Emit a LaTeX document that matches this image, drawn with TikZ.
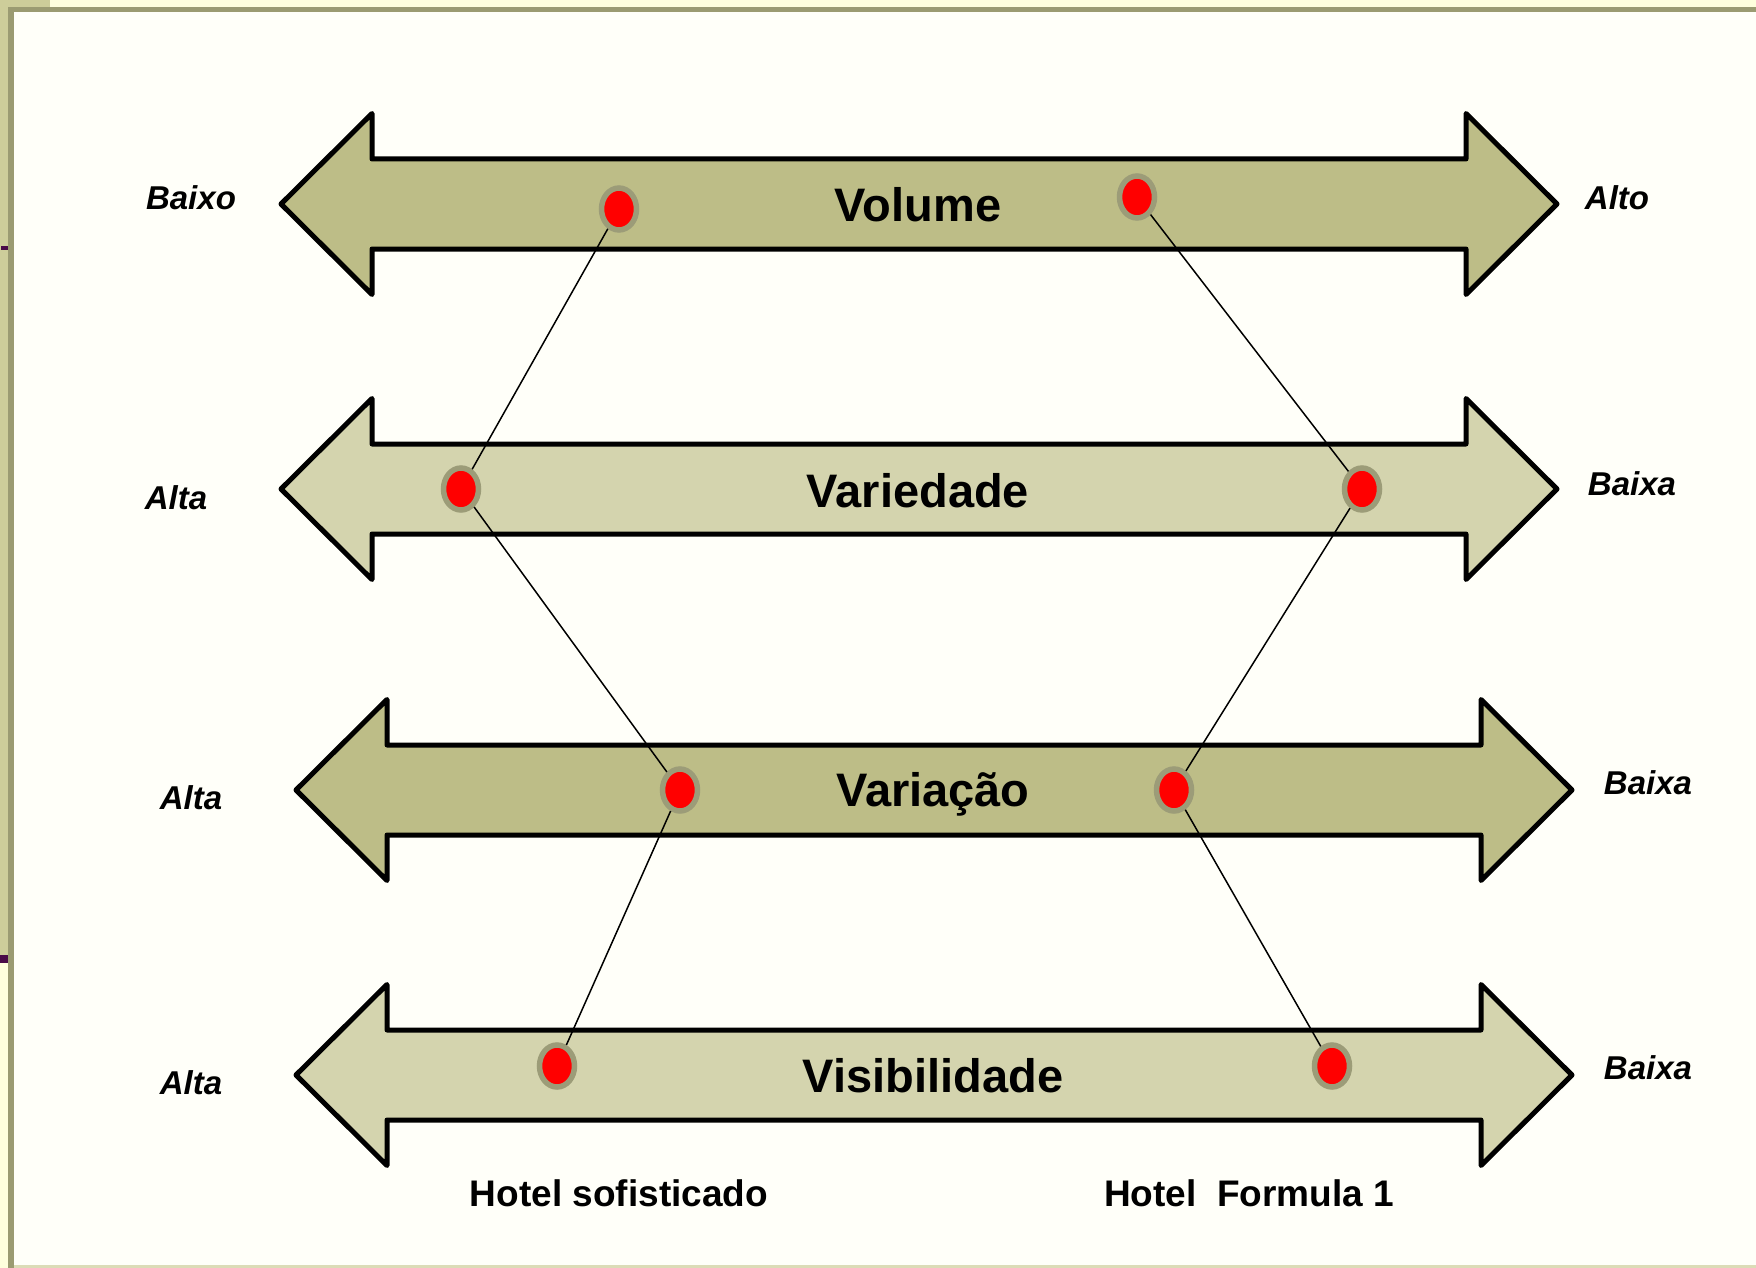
\documentclass[tikz,border=0pt]{standalone}
\usepackage{fontspec}
\setmainfont{Liberation Sans}
\usetikzlibrary{shapes.geometric}

\definecolor{paper}{HTML}{FFFFF9}
\definecolor{cream}{HTML}{FFFFDD}
\definecolor{olivelight}{HTML}{CDCD9A}
\definecolor{olivedark}{HTML}{9B9B72}
\definecolor{plum}{HTML}{4A0A48}
\definecolor{armdark}{HTML}{BDBD87}
\definecolor{armlight}{HTML}{D4D4AE}
\definecolor{ringgray}{HTML}{9C9C78}

% double headed block arrow: #1 = left tip x, #2 = centre y, #3 = fill
\newcommand{\dblarrow}[3]{
  \draw[arrowline, fill=#3] (#1,#2) -- ++(91,-90.5) -- ++(0,45.5) -- ++(1094,0)
    -- ++(0,-45.5) -- ++(91,90.5) -- ++(-91,90.5) -- ++(0,-45.5) -- ++(-1094,0)
    -- ++(0,45.5) -- cycle;
}

\begin{document}
\begin{tikzpicture}[x=1pt,y=-1pt,
    arrowline/.style={line width=5pt,line join=round,draw=black},
    dot/.style={ellipse,fill=red,draw=ringgray,line width=5.5pt,
      minimum width=35pt,minimum height=42pt,inner sep=0pt},
    link/.style={line width=1.5pt},
    title/.style={anchor=base,font=\fontsize{47}{50}\selectfont\bfseries},
    side/.style={anchor=base,font=\fontsize{33}{36}\selectfont\bfseries\itshape},
    hotel/.style={anchor=base,font=\fontsize{37}{40}\selectfont\bfseries}]

  % slide background and frame
  \useasboundingbox (0,0) rectangle (1756,1268);
  \fill[paper] (0,0) rectangle (1756,1268);
  \fill[cream] (0,0) rectangle (1756,7);
  \fill[olivelight] (0,0) rectangle (50,7);
  \fill[olivelight] (0,0) rectangle (8,958);
  \fill[cream] (0,958) rectangle (8,1268);
  \fill[olivedark] (8,7) rectangle (1756,12);
  \fill[olivedark] (8,7) rectangle (14,1268);
  \fill[olivelight!70!paper] (14,1265) rectangle (1756,1268);
  \fill[plum] (1,246) rectangle (8,250);
  \fill[plum] (0,955) rectangle (8,963);

  % the four scales
  \dblarrow{281}{204}{armdark}
  \dblarrow{281}{489}{armlight}
  \dblarrow{296}{790}{armdark}
  \dblarrow{296}{1075}{armlight}

  \node[title] (volume) at (918,222) {Volume};
  \node[title] (variedade) at (918,507) {Variedade};
  \node[title] (variacao) at (933,806) {Variação};
  \node[title] (visibilidade) at (933,1092) {Visibilidade};

  \node[side] (lo1) at (191,210) {Baixo};
  \node[side] (hi1) at (1617,210) {Alto};
  \node[side] (lo2) at (176,509) {Alta};
  \node[side] (hi2) at (1632,495) {Baixa};
  \node[side] (lo3) at (191,809) {Alta};
  \node[side] (hi3) at (1648,794) {Baixa};
  \node[side] (lo4) at (191,1094) {Alta};
  \node[side] (hi4) at (1648,1079) {Baixa};

  \node[hotel] (sofisticado) at (619,1206) {Hotel sofisticado};
  \node[hotel] (formula) at (1249,1206) {Hotel\ \ Formula 1};

  % profile points
  \node[dot] (s1) at (619,209) {};
  \node[dot] (s2) at (461,489) {};
  \node[dot] (s3) at (680,790) {};
  \node[dot] (s4) at (557,1066) {};
  \node[dot] (f1) at (1137,197) {};
  \node[dot] (f2) at (1362,489) {};
  \node[dot] (f3) at (1174,790) {};
  \node[dot] (f4) at (1332,1066) {};

  \draw[link] (s1) -- (s2) -- (s3) -- (s4);
  \draw[link] (f1) -- (f2) -- (f3) -- (f4);
\end{tikzpicture}
\end{document}
